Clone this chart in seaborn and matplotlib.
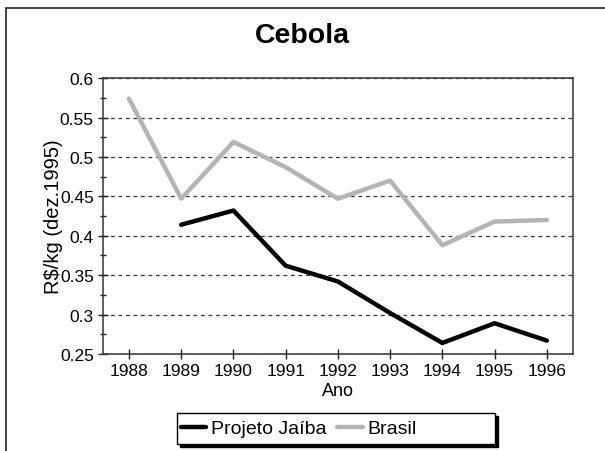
import pandas as pd
import numpy as np
import matplotlib
matplotlib.use('Agg')
import matplotlib.pyplot as plt
from matplotlib.patches import Rectangle
from matplotlib.ticker import MultipleLocator
import seaborn as sb

# values
years_jaiba = [1989, 1990, 1991, 1992, 1993, 1994, 1995, 1996]
jaiba = [0.414, 0.432, 0.362, 0.342, 0.302, 0.264, 0.289, 0.267]
years_brasil = [1988, 1989, 1990, 1991, 1992, 1993, 1994, 1995, 1996]
brasil = [0.574, 0.447, 0.519, 0.487, 0.447, 0.470, 0.388, 0.418, 0.420]
series_names = ['Projeto Jaíba', 'Brasil']
series_colors = ['#000000', '#b4b4b4']

df = pd.concat([
    pd.DataFrame({'Ano': years_jaiba, 'valor': jaiba, 'serie': series_names[0]}),
    pd.DataFrame({'Ano': years_brasil, 'valor': brasil, 'serie': series_names[1]}),
])

sb.set_theme(style='white')
plt.rcParams['font.family'] = ['Liberation Sans', 'DejaVu Sans']
plt.rcParams['text.color'] = 'black'
plt.rcParams['axes.labelcolor'] = 'black'
plt.rcParams['xtick.color'] = 'black'
plt.rcParams['ytick.color'] = 'black'

W, H = 605, 452
fig = plt.figure(figsize=(W / 100, H / 100), dpi=100)
ax = fig.add_axes([0.170, 0.2146, 0.777, 0.6104])

sb.lineplot(data=df, x='Ano', y='valor', hue='serie', palette=series_colors,
            hue_order=series_names, linewidth=3.2, ax=ax, legend=False)

ax.set_xlim(1987.5, 1996.5)
ax.set_ylim(0.25, 0.6)
ax.set_xticks(years_brasil)
ax.set_xticklabels([str(y) for y in years_brasil])
ax.yaxis.set_major_locator(MultipleLocator(0.05))
ax.yaxis.set_minor_locator(MultipleLocator(0.025))
ax.yaxis.set_major_formatter(matplotlib.ticker.FuncFormatter(lambda v, p: ('%g' % round(v, 3))))
ax.tick_params(axis='both', which='major', direction='inout', length=7, width=1,
               color='#222222', labelsize=12.5, pad=3, bottom=True, left=True)
ax.tick_params(axis='y', which='minor', direction='inout', length=5, width=1,
               color='#222222', left=True)
ax.grid(axis='y', which='major', linestyle=(0, (3, 3)), color='#333333', linewidth=0.9)
for s in ax.spines.values():
    s.set_visible(True)
    s.set_color('#333333')
    s.set_linewidth(1.1)

ax.set_xlabel('Ano', fontsize=13, labelpad=3)
ax.set_ylabel('R$/kg (dez.1995)', fontsize=14.5, labelpad=-2)
fig.suptitle('Cebola', fontsize=20.5, fontweight='bold', y=0.95)

# legend: Excel style box with a solid shadow and wide right padding
box_x0, box_y0, box_x1, box_y1 = 177, 414, 495, 445
fig.add_artist(Rectangle(((box_x0 + 3) / W, 1 - (box_y1 + 3) / H), (box_x1 - box_x0) / W,
                         (box_y1 - box_y0) / H, transform=fig.transFigure,
                         facecolor='black', edgecolor='black', zorder=3))
fig.add_artist(Rectangle((box_x0 / W, 1 - box_y1 / H), (box_x1 - box_x0) / W,
                         (box_y1 - box_y0) / H, transform=fig.transFigure,
                         facecolor='white', edgecolor='black', linewidth=1.0, zorder=4))
handles = [plt.Line2D([], [], color=c, linewidth=3.2) for c in series_colors]
leg = fig.legend(handles, series_names, loc='center left',
                 bbox_to_anchor=(181 / W, 1 - (box_y0 + box_y1) / 2 / H),
                 ncol=2, fontsize=14, frameon=False, handlelength=1.3,
                 handletextpad=0.25, columnspacing=0.55, borderpad=0, borderaxespad=0)
leg.set_zorder(5)

# outer frame of the original picture (only top and left edges visible)
fig.add_artist(Rectangle((6 / W, -0.1), 1.2, 1.1 - 9 / H, transform=fig.transFigure,
                         fill=False, edgecolor='#222222', linewidth=1.2))

fig.savefig('out.png', dpi=100)
